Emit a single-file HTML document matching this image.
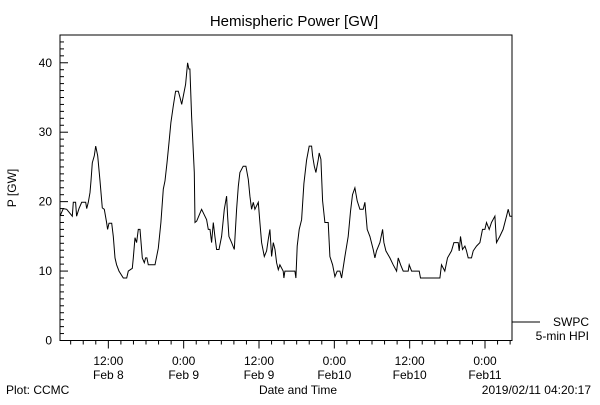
<!DOCTYPE html>
<html><head><meta charset="utf-8"><style>
body{margin:0;background:#fff;width:600px;height:400px;overflow:hidden}
text{font-family:"Liberation Sans",sans-serif;fill:#000}
</style></head><body>
<svg width="600" height="400">
<rect x="0" y="0" width="600" height="400" fill="#fff"/>
<text x="294" y="26" font-size="15" text-anchor="middle">Hemispheric Power [GW]</text>
<rect x="60" y="35" width="452" height="305.5" fill="none" stroke="#000" stroke-width="1"/>
<g id="yaxis"></g>
<g id="xaxis"></g>
<text transform="translate(16,188) rotate(-90)" font-size="12" text-anchor="middle">P [GW]</text>
<polyline id="series" fill="none" stroke="#000" stroke-width="1"/>
<line x1="512" y1="322" x2="540" y2="322" stroke="#000"/>
<text x="589" y="326" font-size="12" text-anchor="end">SWPC</text>
<text x="589" y="340" font-size="12" text-anchor="end">5-min HPI</text>
<text x="298" y="394" font-size="12" text-anchor="middle">Date and Time</text>
<text x="6" y="394" font-size="12">Plot: CCMC</text>
<text x="591" y="394" font-size="12" text-anchor="end">2019/02/11 04:20:17</text>
</svg>
<script>
const hours=[0,0.53,1.06,1.96,2.12,2.49,2.65,3.03,3.45,4.09,4.25,4.51,4.78,4.94,5.15,5.47,5.68,6.0,6.37,6.74,7.06,7.43,7.59,7.8,8.23,8.49,8.76,9.02,9.4,10.08,10.62,10.88,11.52,11.68,11.94,12.2,12.47,12.74,13.11,13.43,13.64,13.85,14.07,15.13,15.66,16.08,16.45,16.72,17.04,17.36,17.67,18.05,18.42,18.84,19.11,19.38,19.64,20.01,20.33,20.54,20.7,20.97,21.39,21.5,21.77,22.56,23.36,23.62,23.89,24.15,24.42,24.68,24.95,25.32,25.74,26.17,26.54,26.7,26.91,27.34,27.76,28.13,28.4,28.66,29.19,29.62,29.99,30.25,30.52,30.79,31.05,31.58,31.85,32.11,32.54,32.91,33.17,33.44,33.71,33.97,34.24,34.5,34.77,
35.03,35.56,35.67,35.83,37.42,37.58,37.79,38.11,38.48,38.85,39.28,39.7,40.07,40.23,40.5,40.76,41.14,41.29,41.56,41.83,42.2,42.73,42.99,43.42,43.79,44.16,44.59,44.85,45.38,45.91,46.28,46.6,46.97,47.34,47.77,48.3,48.57,48.94,49.36,49.89,50.16,50.42,50.96,51.38,51.59,51.91,52.55,53.08,53.61,53.88,54.25,54.67,55.47,55.63,56.0,57.22,57.43,60.51,60.77,61.3,61.73,62.37,62.74,63.43,63.59,63.8,64.12,64.49,64.76,65.02,65.55,65.82,66.35,66.88,67.3,67.68,67.94,68.37,68.74,69.27,69.53,70.06,70.59,71.13,71.39,71.66,72.03];
const power=[17.9,19.0,18.9,17.9,19.9,19.9,17.9,19.0,19.9,19.9,19.0,19.9,21.3,23.0,25.6,26.6,28.0,26.6,23.0,19.1,18.9,17.0,16.0,16.9,16.9,15.0,11.9,10.9,10.0,9.0,9.0,10.0,10.4,11.9,14.8,14.1,16.0,16.0,11.9,11.2,11.9,11.9,10.9,10.9,13.3,17.0,21.8,23.0,25.6,28.5,31.4,33.8,35.9,35.9,35.0,34.0,35.2,36.9,40.0,39.1,39.1,32.3,24.2,17.0,17.2,18.9,17.4,16.0,16.0,14.1,17.0,15.0,13.1,13.1,15.0,18.9,20.8,17.9,15.0,14.1,13.1,18.9,22.2,24.2,25.1,25.1,23.2,20.8,18.9,19.9,18.9,19.9,17.0,14.1,12.1,12.9,14.5,16.0,12.1,14.1,13.1,11.2,10.2,
10.9,10.0,9.0,10.0,10.0,9.0,13.6,16.0,17.4,22.6,26.0,28.0,28.0,26.6,25.1,24.2,26.1,27.0,26.1,20.1,17.0,17.0,12.1,10.9,9.2,10.0,10.0,9.0,12.1,15.0,18.6,21.0,22.0,20.1,18.9,18.9,19.9,16.0,15.0,13.1,11.9,12.9,14.1,16.0,14.1,12.9,11.9,10.9,10.0,11.9,10.9,10.0,10.0,10.9,10.0,10.0,9.0,9.0,10.9,10.0,11.9,12.9,14.1,14.1,12.9,15.0,13.1,13.6,12.9,11.9,11.9,12.9,13.6,14.1,16.0,16.0,17.0,16.0,17.0,17.9,14.1,15.0,16.0,17.9,18.9,17.9,17.9];
const yTicks=[0,10,20,30,40];
const xTickLabels=[["12:00","Feb 8"],["0:00","Feb 9"],["12:00","Feb 9"],["0:00","Feb10"],["12:00","Feb10"],["0:00","Feb11"]];
const xTickHours=[7.7,19.7,31.7,43.7,55.7,67.7];
const NS="http://www.w3.org/2000/svg";
const X0=60,X1=512,Y0=340.5,Y1=35,HMAX=72,VMAX=44;
const xs=h=>X0+h/HMAX*(X1-X0);
const ys=v=>Y0-v/VMAX*(Y0-Y1);
function mk(tag,attrs,parent){const e=document.createElementNS(NS,tag);for(const k in attrs)e.setAttribute(k,attrs[k]);parent.appendChild(e);return e;}
const ya=document.getElementById('yaxis');
for(let v=1;v<VMAX;v++){const t=mk('line',{x1:X0,x2:X0+(v%10===0?8:4),y1:ys(v),y2:ys(v),stroke:'#000'},ya);

}
yTicks.forEach(v=>{const t=mk('text',{x:X0-8,y:ys(v)+4,'font-size':12,'text-anchor':'end'},ya);t.textContent=v;

});
const xa=document.getElementById('xaxis');
for(let h=xTickHours[0]-6;h<HMAX;h+=2){if(h<=0)continue;const major=xTickHours.some(m=>Math.abs(m-h)<0.01);
const t=mk('line',{x1:xs(h),x2:xs(h),y1:Y0,y2:Y0+(major?8:4),stroke:'#000'},xa);

}
xTickLabels.forEach((l,i)=>{const x=xs(xTickHours[i]);
const a=mk('text',{x:x,y:365,'font-size':12,'text-anchor':'middle'},xa);a.textContent=l[0];


const b=mk('text',{x:x,y:379,'font-size':12,'text-anchor':'middle'},xa);b.textContent=l[1];

});
document.getElementById('series').setAttribute('points',hours.map((h,i)=>xs(h).toFixed(1)+','+ys(power[i]).toFixed(1)).join(' '));
</script>
</body></html>
